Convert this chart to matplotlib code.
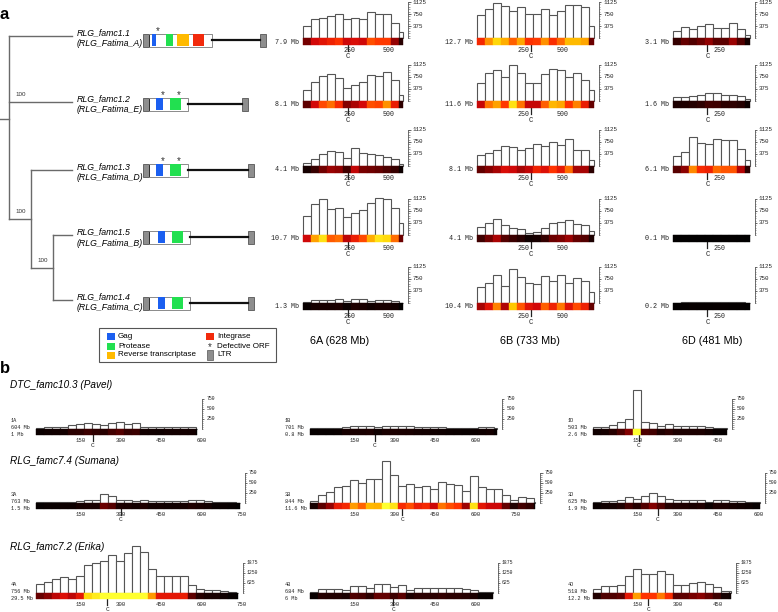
import numpy as np
import matplotlib.pyplot as plt
from matplotlib.colors import LinearSegmentedColormap
from matplotlib.patches import Rectangle

W, H = 778, 612
MONO = 'Liberation Mono'
SANS = 'Liberation Sans'

# ---------------- panel a data ----------------
elements = ['RLG_famc1.1', 'RLG_famc1.2', 'RLG_famc1.3', 'RLG_famc1.5', 'RLG_famc1.4']
aliases = ['(RLG_Fatima_A)', '(RLG_Fatima_E)', '(RLG_Fatima_D)', '(RLG_Fatima_B)', '(RLG_Fatima_C)']

chroms_a = ['6A', '6B', '6D']
chrom_len_a = [628, 733, 481]
chrom_titles_a = ['6A (628 Mb)', '6B (733 Mb)', '6D (481 Mb)']
cent_a = [283, 335, 215]
ticks_a = [[250, 500], [250, 500], [250]]

copies_6A = ['7.9 Mb', '8.1 Mb', '4.1 Mb', '10.7 Mb', '1.3 Mb']
copies_6B = ['12.7 Mb', '11.6 Mb', '8.1 Mb', '4.1 Mb', '10.4 Mb']
copies_6D = ['3.1 Mb', '1.6 Mb', '6.1 Mb', '0.1 Mb', '0.2 Mb']

# copies per 50 Mb bin (last bin partial)
hist_6A = [
    [390, 600, 640, 690, 740, 590, 620, 590, 800, 760, 760, 460, 180],
    [330, 600, 790, 850, 720, 420, 510, 600, 800, 780, 920, 670, 200],
    [100, 220, 375, 470, 440, 250, 560, 400, 375, 340, 280, 220, 60],
    [590, 960, 1140, 820, 850, 550, 680, 790, 990, 1150, 1110, 850, 365],
    [40, 95, 105, 105, 125, 50, 135, 115, 75, 105, 105, 75, 10],
]
hist_6B = [
    [710, 920, 1100, 990, 830, 970, 740, 760, 920, 730, 840, 1020, 1020, 970, 365],
    [570, 860, 960, 760, 1140, 860, 570, 570, 830, 1010, 970, 750, 885, 670, 345],
    [340, 420, 500, 620, 590, 500, 560, 690, 625, 750, 660, 850, 500, 500, 190],
    [240, 375, 510, 300, 230, 180, 75, 105, 210, 365, 405, 470, 345, 300, 125],
    [500, 635, 885, 520, 1050, 810, 635, 600, 830, 690, 865, 635, 790, 690, 345],
]
hist_6D = [
    [210, 345, 290, 365, 450, 320, 320, 470, 290, 85],
    [125, 135, 165, 200, 250, 240, 190, 200, 165, 60],
    [310, 440, 900, 720, 690, 840, 810, 810, 530, 190],
    [10, 10, 10, 12, 12, 15, 10, 15, 10, 5],
    [15, 20, 30, 25, 25, 30, 25, 20, 20, 10],
]

# element structures (units along the diagram)
ltr_len = 6
internal_len = [63, 39, 39, 41, 41]
total_len = [123, 105, 111, 111, 111]
dom_start = [[9, 23, 34, 50], [13, 27], [13, 27], [15, 29], [15, 29]]
dom_end = [[13, 30, 46, 61], [20, 38], [20, 38], [22, 40], [22, 40]]
dom_kind = [['Gag', 'Protease', 'Reverse transcriptase', 'Integrase'],
            ['Gag', 'Protease'], ['Gag', 'Protease'], ['Gag', 'Protease'], ['Gag', 'Protease']]
stars = [[15], [20, 36], [20, 36], [], []]
dom_colors = {'Gag': '#1b5ff0', 'Protease': '#22e050', 'Reverse transcriptase': '#ffba00',
              'Integrase': '#f22a0c'}
ltr_color = '#8e8e8e'

# ---------------- panel b data ----------------
families_b = ['DTC_famc10.3 (Pavel)', 'RLG_famc7.4 (Sumana)', 'RLG_famc7.2 (Erika)']
chroms_b = [['1A', '1B', '1D'], ['3A', '3B', '3D'], ['4A', '4B', '4D']]
chrom_len_b = [[604, 701, 503], [763, 844, 625], [756, 684, 518]]
copies_b = [['1 Mb', '0.8 Mb', '2.6 Mb'], ['1.5 Mb', '11.6 Mb', '1.9 Mb'], ['29.5 Mb', '6 Mb', '12.2 Mb']]
cent_b = [[213, 243, 172], [318, 345, 243], [266, 311, 206]]
scale_b = [[250, 500, 750], [250, 500, 750], [625, 1250, 1875]]

# copies per 30 Mb bin (last bin partial)
hist_pavel = [
    [30, 40, 45, 50, 110, 115, 140, 120, 100, 150, 180, 130, 140, 50, 45, 40, 50, 50, 55, 50, 10],
    [15, 20, 20, 25, 60, 65, 65, 75, 40, 65, 75, 70, 65, 55, 50, 45, 40, 35, 30, 25, 30, 40, 50, 20],
    [42, 58, 100, 166, 250, 975, 166, 150, 83, 116, 75, 75, 75, 75, 50, 25, 17],
]
hist_sumana = [
    [17, 25, 25, 33, 33, 58, 66, 66, 216, 183, 75, 66, 50, 83, 50, 50, 42, 42, 58, 83, 66, 50, 25, 25, 17, 8],
    [58, 190, 275, 400, 425, 566, 500, 608, 600, 1058, 690, 433, 475, 408, 425, 350, 516, 475, 450, 290,
     683, 390, 350, 350, 208, 83, 150, 125, 20],
    [25, 42, 50, 83, 150, 100, 175, 250, 175, 100, 83, 83, 66, 83, 33, 75, 75, 58, 42, 33, 17],
]
hist_erika = [
    [560, 690, 875, 1000, 875, 1040, 1770, 1875, 2020, 2400, 2020, 2500, 2910, 2560, 1500, 1040, 1040,
     1040, 1080, 520, 270, 166, 166, 104, 42, 20],
    [62, 250, 230, 230, 187, 458, 416, 312, 540, 540, 375, 500, 208, 290, 290, 290, 333, 290, 290, 270,
     187, 40, 40],
    [230, 458, 458, 520, 1040, 1520, 1190, 1190, 1395, 1165, 500, 520, 625, 690, 560, 395, 145, 100],
]

heat = LinearSegmentedColormap.from_list('heat', [
    (0.0, '#000000'), (0.15, '#2b0000'), (0.32, '#7a0000'), (0.48, '#d40808'),
    (0.6, '#ff3300'), (0.72, '#ff8800'), (0.85, '#ffcc00'), (1.0, '#ffff30')])

fig = plt.figure(figsize=(W / 100, H / 100), dpi=100)
ov = fig.add_axes([0, 0, 1, 1])
ov.set_xlim(0, W)
ov.set_ylim(H, 0)
ov.axis('off')


def label(ax, s, xy, off, **kw):
    ax.annotate(s, xy=xy, xytext=off, textcoords='offset pixels', annotation_clip=False,
                color='#222222', **kw)


def draw_chrom(x0, base, length, values, bin_mb, ppm, top_px, ymax, cmax, strip_px,
               scale_ticks, minor, ticks, cent, tick_fs, scale_fs, tick_off, c_off):
    ax = fig.add_axes([x0 / W, 1 - base / H, length * ppm / W, top_px / H])
    ax.set_xlim(0, length)
    ax.set_ylim(0, ymax)
    ax.axis('off')
    upp = ymax / top_px
    values = np.array(values, dtype=float)
    starts = np.arange(len(values)) * bin_mb
    widths = np.minimum(bin_mb, length - starts)
    ax.bar(starts, values, width=widths, align='edge', color='white', edgecolor='#555555',
           linewidth=0.8, clip_on=False, zorder=2)
    colors = heat(np.clip(values / cmax, 0, 1))
    strip_h = strip_px * upp
    ax.bar(starts, strip_h, bottom=-strip_h, width=widths, align='edge', color=colors,
           edgecolor=colors, linewidth=0.3, clip_on=False, zorder=3)
    # scale bar
    sx = length + 5 / ppm
    ax.plot([sx, sx], [0, ymax], color='#555555', lw=0.6, clip_on=False)
    ax.hlines(np.arange(0, ymax + 1, minor), sx, sx + 1.2 / ppm, color='#555555', lw=0.4, clip_on=False)
    ax.hlines(scale_ticks, sx, sx + 2.2 / ppm, color='#555555', lw=0.6, clip_on=False)
    for t in scale_ticks:
        label(ax, str(t), (sx, t), (4, 0), fontsize=scale_fs, family=MONO, va='center', ha='left')
    # position ticks and centromere
    for t in ticks:
        label(ax, str(t), (t, 0), (0, -(strip_px + tick_off)), fontsize=tick_fs, family=MONO,
              va='center', ha='left')
    ax.plot([cent, cent], [-strip_h, -strip_h - 6 * upp], color='#222222', lw=0.9, clip_on=False)
    label(ax, 'C', (cent, 0), (0, -(strip_px + c_off)), fontsize=tick_fs + 0.4, family=MONO,
          va='center', ha='center')
    return ax


# ---------------- panel a ----------------
ov.text(0, 19, 'a', fontsize=12, fontweight='bold', family=SANS, va='baseline')

leaf_y = [36, 102, 170, 235, 300]
tip_x, root_x, c1_x, c2_x = 72, 9, 31, 53
tree_col = '#6a6a6a'
c2_y = (leaf_y[3] + leaf_y[4]) / 2
c1_y = (leaf_y[2] + c2_y) / 2
root_y = (leaf_y[0] + leaf_y[1] + c1_y) / 3
ov.plot([0, root_x], [root_y, root_y], color=tree_col, lw=1)
ov.plot([root_x, root_x], [leaf_y[0], c1_y], color=tree_col, lw=1)
for y in leaf_y[:2]:
    ov.plot([root_x, tip_x], [y, y], color=tree_col, lw=1)
ov.plot([root_x, c1_x], [c1_y, c1_y], color=tree_col, lw=1)
ov.plot([c1_x, c1_x], [leaf_y[2], c2_y], color=tree_col, lw=1)
ov.plot([c1_x, tip_x], [leaf_y[2], leaf_y[2]], color=tree_col, lw=1)
ov.plot([c1_x, c2_x], [c2_y, c2_y], color=tree_col, lw=1)
ov.plot([c2_x, c2_x], [leaf_y[3], leaf_y[4]], color=tree_col, lw=1)
for y in leaf_y[3:]:
    ov.plot([c2_x, tip_x], [y, y], color=tree_col, lw=1)
for bx, by in [(root_x, leaf_y[1]), (root_x, c1_y), (c2_x - 22, c2_y)]:
    ov.text(bx + 6, by - 7, '100', fontsize=4.5, family=SANS, va='center', ha='left', color='#333333')

diag_x = 143
diag_dy = [4, 2, 0, 2, 3]
box_h = 13
for i in range(len(elements)):
    ov.text(77, leaf_y[i] - 3, elements[i], fontsize=6.3, style='italic', family=SANS, va='center')
    ov.text(77, leaf_y[i] + 8, aliases[i], fontsize=6.3, style='italic', family=SANS, va='center')
    yc = leaf_y[i] + diag_dy[i]
    top = yc - box_h / 2
    ov.add_patch(Rectangle((diag_x, top), ltr_len, box_h, fc=ltr_color, ec='#555555', lw=0.6))
    ov.add_patch(Rectangle((diag_x + ltr_len, top), internal_len[i], box_h, fc='white', ec='#777777', lw=0.6))
    for s, e, k in zip(dom_start[i], dom_end[i], dom_kind[i]):
        ov.add_patch(Rectangle((diag_x + s, top + 0.5), e - s, box_h - 1, fc=dom_colors[k], ec='none'))
    ov.plot([diag_x + ltr_len + 0.5, diag_x + ltr_len + 0.5], [top + 1, top + box_h - 1], color='#222222', lw=0.6)
    ov.plot([diag_x + ltr_len + internal_len[i], diag_x + total_len[i] - ltr_len], [yc, yc],
            color='#111111', lw=1.6)
    ov.add_patch(Rectangle((diag_x + total_len[i] - ltr_len, top), ltr_len, box_h, fc=ltr_color,
                           ec='#555555', lw=0.6))
    for s in stars[i]:
        ov.text(diag_x + s, top - 2.5, '*', fontsize=7, family=SANS, ha='center', va='center', color='#333333')

# legend
ov.add_patch(Rectangle((99, 328), 177, 34, fc='white', ec='#555555', lw=0.8))
leg_rows = [336, 346, 355]
for y, k in zip(leg_rows, ['Gag', 'Protease', 'Reverse transcriptase']):
    ov.add_patch(Rectangle((107, y - 3.5), 8, 7, fc=dom_colors[k], ec='none'))
    ov.text(118, y, k, fontsize=5.8, family=SANS, va='center')
ov.add_patch(Rectangle((206, leg_rows[0] - 3.5), 8, 7, fc=dom_colors['Integrase'], ec='none'))
ov.text(217, leg_rows[0], 'Integrase', fontsize=5.8, family=SANS, va='center')
ov.text(210, leg_rows[1] + 1, '*', fontsize=7, family=SANS, ha='center', va='center', color='#333333')
ov.text(217, leg_rows[1], 'Defective ORF', fontsize=5.8, family=SANS, va='center')
ov.add_patch(Rectangle((207, leg_rows[2] - 5), 6, 10, fc=ltr_color, ec='#555555', lw=0.5))
ov.text(217, leg_rows[2], 'LTR', fontsize=5.8, family=SANS, va='center')

# histograms
x0_a = [303, 477, 673]
base_a = [38, 101, 166, 235, 303]
hists_a = [hist_6A, hist_6B, hist_6D]
copies_a = [copies_6A, copies_6B, copies_6D]
for c in range(3):
    for r in range(5):
        ax = draw_chrom(x0_a[c], base_a[r], chrom_len_a[c], hists_a[c][r], 50, 0.16, 36, 1125, 1250, 7,
                        [375, 750, 1125], 75, ticks_a[c], cent_a[c], 4.8, 4.2, 6, 12)
        label(ax, copies_a[c][r], (0, 0), (-4, -4), fontsize=4.9, family=MONO, ha='right', va='center')
title_x = [340, 530, 712]
for c in range(3):
    ov.text(title_x[c], 341, chrom_titles_a[c], fontsize=7.8, family=SANS, ha='center', va='center')

# ---------------- panel b ----------------
ov.text(0, 373, 'b', fontsize=12, fontweight='bold', family=SANS, va='baseline')
x0_b = [36, 310, 593]
base_b = [429, 503, 593]
title_y_b = [385, 461, 547]
hists_b = [hist_pavel, hist_sumana, hist_erika]
cmax_b = [750, 750, 2000]
for r in range(3):
    ov.text(10, title_y_b[r], families_b[r], fontsize=7.2, style='italic', family=SANS, va='center')
    for c in range(3):
        length = chrom_len_b[r][c]
        ticks = [t for t in [150, 300, 450, 600, 750] if t <= length]
        ax = draw_chrom(x0_b[c], base_b[r], length, hists_b[r][c], 30, 0.267, 30, scale_b[r][-1],
                        cmax_b[r], 6, scale_b[r], scale_b[r][0] / 5, ticks, cent_b[r][c], 4.1, 3.4, 5, 10.5)
        for dy, s in zip([8, 1.5, -5.5], [chroms_b[r][c], str(length) + ' Mb', copies_b[r][c]]):
            label(ax, s, (0, 0), (-25, dy), fontsize=3.8, family=MONO, ha='left', va='center')

fig.savefig('out.png', dpi=100)
